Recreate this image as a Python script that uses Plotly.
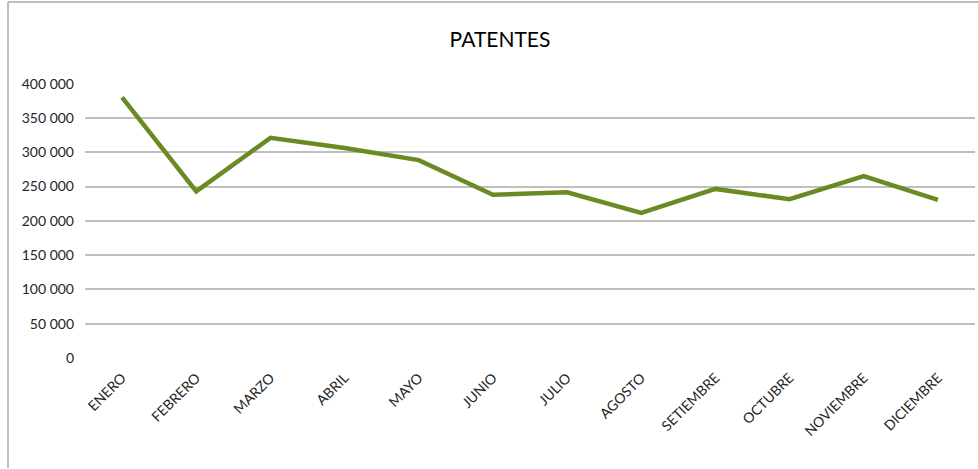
import plotly.graph_objects as go

months = ["ENERO", "FEBRERO", "MARZO", "ABRIL", "MAYO", "JUNIO", "JULIO",
          "AGOSTO", "SETIEMBRE", "OCTUBRE", "NOVIEMBRE", "DICIEMBRE"]
patentes = [380000, 243000, 321000, 306000, 288500, 238000, 241500,
            211500, 246500, 231500, 265000, 230500]
y_ticks = [0, 50000, 100000, 150000, 200000, 250000, 300000, 350000, 400000]
y_tick_labels = ["0", "50 000", "100 000", "150 000", "200 000", "250 000",
                 "300 000", "350 000", "400 000"]

W, H = 978, 469
ML, MR, MT, MB = 85, 3, 83, 111

font_family = "Lato, Open Sans, Liberation Sans, sans-serif"

fig = go.Figure()
fig.add_trace(go.Scatter(
    x=months, y=patentes, mode="lines",
    line=dict(color="#6A8B24", width=4.5),
    hoverinfo="x+y",
))

fig.update_layout(
    width=W, height=H,
    margin=dict(l=ML, r=MR, t=MT, b=MB),
    paper_bgcolor="white", plot_bgcolor="white",
    showlegend=False,
    title=dict(text="PATENTES", x=500 / W, xanchor="center",
               y=1 - 40 / H, yanchor="middle",
               font=dict(family=font_family, size=21, color="#000000")),
    font=dict(family=font_family, size=14, color="#404040"),
)

fig.update_xaxes(
    type="category", range=[-0.5, len(months) - 0.5],
    tickangle=-45, showgrid=False, zeroline=False, showline=False,
    ticks="", tickfont=dict(family=font_family, size=14, color="#262626"),
    ticklabelstandoff=8,
)
fig.update_yaxes(
    range=[0, 400900], tickvals=y_ticks, ticktext=y_tick_labels,
    showgrid=True, gridcolor="#BFBFBF", gridwidth=1.5,
    zeroline=False, showline=False, ticks="",
    tickfont=dict(family=font_family, size=14, color="#262626"),
    ticklabelstandoff=10,
)

# chart-area border (left and top edges visible)
x_left = (8 - ML) / (W - ML - MR)
x_right = (W - ML) / (W - ML - MR)
y_top = 1 + (MT - 2) / (H - MT - MB)
y_bot = -(MB - 1) / (H - MT - MB)
fig.add_shape(type="line", xref="paper", yref="paper",
              x0=x_left, x1=x_left, y0=y_bot, y1=y_top,
              line=dict(color="#BFBFBF", width=2))
fig.add_shape(type="line", xref="paper", yref="paper",
              x0=x_left, x1=x_right, y0=y_top, y1=y_top,
              line=dict(color="#BFBFBF", width=2))

fig.write_html("out.html",
               config={"displayModeBar": False},
               post_script="document.body.style.margin='0';")
